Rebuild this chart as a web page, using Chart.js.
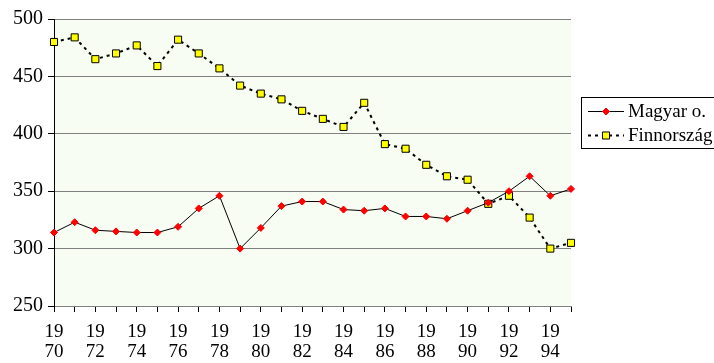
<!DOCTYPE html>
<html>
<head>
<meta charset="utf-8">
<script src="https://cdn.jsdelivr.net/npm/chart.js@4.4.1/dist/chart.umd.min.js"></script>
<style>
  html, body { margin: 0; padding: 0; background: #ffffff; }
  #wrap { width: 714px; height: 363px; position: relative; }
</style>
</head>
<body>
<div id="wrap"><canvas id="c" width="714" height="363"></canvas></div>
<script>
// Years on the category axis
const years = [1970, 1971, 1972, 1973, 1974, 1975, 1976, 1977, 1978, 1979,
               1980, 1981, 1982, 1983, 1984, 1985, 1986, 1987, 1988, 1989,
               1990, 1991, 1992, 1993, 1994, 1995];

// Series values
const magyar = [314, 323, 316, 315, 314, 314, 319, 335, 346, 300,
                318, 337, 341, 341, 334, 333, 335, 328, 328, 326,
                333, 340, 350, 363, 346, 352];
const finnorszag = [480, 484, 465, 470, 477, 459, 482, 470, 457, 442,
                    435, 430, 420, 413, 406, 427, 391, 387, 373, 363,
                    360, 339, 346, 327, 300, 305];

// Axis ticks and legend names
const yTicks = [250, 300, 350, 400, 450, 500];
const seriesNames = ['Magyar o.', 'Finnország'];

const FONT = "'Liberation Serif', 'Times New Roman', serif";

const plotBackground = {
  id: 'plotBackground',
  beforeDraw(chart) {
    const { ctx, chartArea: a } = chart;
    ctx.save();
    ctx.fillStyle = '#f8fdf3';
    ctx.fillRect(a.left, a.top, a.right - a.left, a.bottom - a.top);
    ctx.restore();
  }
};

// Boxed legend to the right of the plot
const boxedLegend = {
  id: 'boxedLegend',
  afterDraw(chart) {
    const { ctx } = chart;
    const x0 = 581, y0 = 97, x1 = 720, y1 = 148;
    ctx.save();
    ctx.fillStyle = '#ffffff';
    ctx.fillRect(x0, y0, x1 - x0, y1 - y0);
    ctx.strokeStyle = '#000000';
    ctx.lineWidth = 1;
    ctx.strokeRect(x0 + 0.5, y0 + 0.5, x1 - x0, y1 - y0);
    const rows = [111.5, 135.5];
    chart.data.datasets.forEach((ds, i) => {
      const y = rows[i];
      ctx.strokeStyle = ds.borderColor;
      ctx.lineWidth = ds.borderWidth;
      ctx.setLineDash(ds.borderDash || []);
      ctx.beginPath();
      ctx.moveTo(588, y);
      ctx.lineTo(624, y);
      ctx.stroke();
      ctx.setLineDash([]);
      ctx.fillStyle = ds.pointBackgroundColor;
      ctx.strokeStyle = ds.pointBorderColor;
      ctx.lineWidth = ds.pointBorderWidth;
      Chart.helpers.drawPoint(ctx, {
        pointStyle: ds.pointStyle,
        radius: ds.pointRadius,
        borderWidth: ds.pointBorderWidth
      }, 606, y);
      ctx.fillStyle = '#000000';
      ctx.font = '19px ' + FONT;
      ctx.textBaseline = 'middle';
      ctx.textAlign = 'left';
      ctx.fillText(ds.label, 628, y + 1);
    });
    ctx.restore();
  }
};

new Chart(document.getElementById('c'), {
  type: 'line',
  data: {
    labels: years,
    datasets: [
      {
        label: seriesNames[0],
        data: magyar,
        borderColor: '#000000',
        borderWidth: 1,
        pointStyle: 'rectRot',
        pointRadius: 3.5,
        pointBackgroundColor: '#ff0000',
        pointBorderColor: '#ff0000',
        pointBorderWidth: 1,
        tension: 0
      },
      {
        label: seriesNames[1],
        data: finnorszag,
        borderColor: '#000000',
        borderWidth: 2,
        borderDash: [3, 4],
        pointStyle: 'rect',
        pointRadius: 5,
        pointBackgroundColor: '#ffff00',
        pointBorderColor: '#000000',
        pointBorderWidth: 1,
        tension: 0
      }
    ]
  },
  options: {
    responsive: false,
    animation: false,
    devicePixelRatio: 1,
    layout: { padding: { top: 19, right: 143, left: 0, bottom: 0 } },
    plugins: { legend: { display: false }, tooltip: { enabled: false } },
    scales: {
      x: {
        type: 'category',
        offset: false,
        afterFit(scale) { scale.height = 57; },
        border: { color: '#808080', width: 1 },
        grid: { drawOnChartArea: false, drawTicks: true, tickLength: 6, tickColor: '#000000' },
        ticks: {
          autoSkip: false,
          maxRotation: 0,
          minRotation: 0,
          padding: 10,
          color: '#000000',
          font: { family: FONT, size: 19, lineHeight: 1.05 },
          callback(value, index) {
            const y = years[index];
            if (y % 2 !== 0) return '';
            const s = String(y);
            return [s.slice(0, 2), s.slice(2)];
          }
        }
      },
      y: {
        min: yTicks[0],
        max: yTicks[yTicks.length - 1],
        afterFit(scale) { scale.width = 54; },
        afterBuildTicks(scale) { scale.ticks = yTicks.map(v => ({ value: v })); },
        border: { color: '#000000', width: 1 },
        grid: { color: '#808080', lineWidth: 1, drawTicks: true, tickLength: 6, tickColor: '#000000' },
        ticks: {
          padding: 5,
          color: '#000000',
          font: { family: FONT, size: 20 }
        }
      }
    }
  },
  plugins: [plotBackground, boxedLegend]
});
</script>
</body>
</html>
